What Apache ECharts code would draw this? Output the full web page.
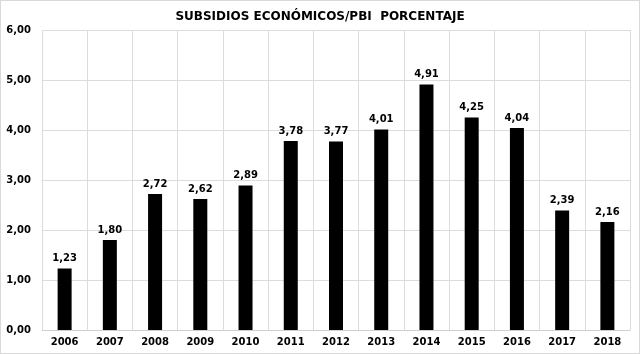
<!DOCTYPE html>
<html>
<head>
<meta charset="utf-8">
<script src="https://cdn.jsdelivr.net/npm/echarts@6/dist/echarts.min.js"></script>
<style>
  html, body { margin: 0; padding: 0; background: #fff; }
  #chart { width: 638px; height: 352px; border: 1px solid #d9d9d9; }
</style>
</head>
<body>
<div id="chart"></div>
<script>
const years = ['2006', '2007', '2008', '2009', '2010', '2011', '2012', '2013', '2014', '2015', '2016', '2017', '2018']
const subsidios = [1.23, 1.80, 2.72, 2.62, 2.89, 3.78, 3.77, 4.01, 4.91, 4.25, 4.04, 2.39, 2.16]

const fmt = v => v.toFixed(2).replace('.', ',')

let option = {
  animation: false,
  title: {
    text: 'SUBSIDIOS ECONÓMICOS/PBI  PORCENTAJE',
    left: 'center',
    top: 5,
    textStyle: {
      fontFamily: 'DejaVu Sans',
      fontWeight: 'bold',
      fontSize: 12,
      color: '#000'
    }
  },
  grid: {
    left: 41,
    right: 9,
    top: 29,
    bottom: 23
  },
  xAxis: {
    type: 'category',
    data: years,
    axisTick: { show: false },
    axisLine: { lineStyle: { color: '#d0d0d0' } },
    splitLine: { show: true, lineStyle: { color: '#dcdcdc' } },
    axisLabel: {
      fontFamily: 'DejaVu Sans',
      fontWeight: 'bold',
      fontSize: 10,
      color: '#000',
      margin: 7
    }
  },
  yAxis: {
    type: 'value',
    min: 0,
    max: 6,
    interval: 1,
    splitLine: { lineStyle: { color: '#dcdcdc' } },
    axisLabel: {
      formatter: v => fmt(v),
      fontFamily: 'DejaVu Sans',
      fontWeight: 'bold',
      fontSize: 10,
      color: '#000',
      margin: 11,
      padding: [0, 0, 4, 0]
    }
  },
  series: [{
    type: 'bar',
    data: subsidios,
    barWidth: 14,
    itemStyle: { color: '#000' },
    label: {
      show: true,
      position: 'top',
      distance: 5,
      formatter: p => fmt(p.value),
      fontFamily: 'DejaVu Sans',
      fontWeight: 'bold',
      fontSize: 10,
      color: '#000'
    }
  }]
}
let chart = echarts.init(document.getElementById('chart'))
chart.setOption(option)
</script>
</body>
</html>
